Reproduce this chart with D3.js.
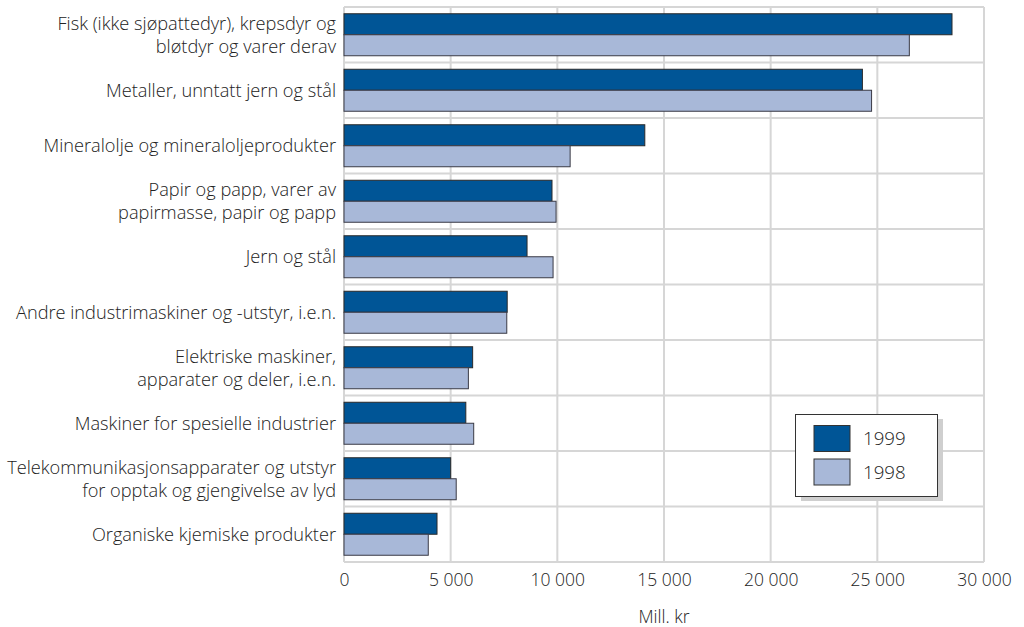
<!DOCTYPE html>
<html>
<head>
<meta charset="utf-8">
<script src="https://cdn.jsdelivr.net/npm/d3@7"></script>
<style>
  html, body { margin: 0; padding: 0; background: #fff; }
  svg { display: block; }
  text { font-family: "Open Sans", "Noto Sans", sans-serif; font-weight: 300; fill: #222; }
</style>
</head>
<body>
<svg id="chart" width="1024" height="627"></svg>
<script>
const categories = [
  "Fisk (ikke sjøpattedyr), krepsdyr og\nbløtdyr og varer derav",
  "Metaller, unntatt jern og stål",
  "Mineralolje og mineraloljeprodukter",
  "Papir og papp, varer av\npapirmasse, papir og papp",
  "Jern og stål",
  "Andre industrimaskiner og -utstyr, i.e.n.",
  "Elektriske maskiner,\napparater og deler, i.e.n.",
  "Maskiner for spesielle industrier",
  "Telekommunikasjonsapparater og utstyr\nfor opptak og gjengivelse av lyd",
  "Organiske kjemiske produkter"
];
const values1999 = [28500, 24300, 14100, 9750, 8580, 7650, 6030, 5710, 5000, 4360];
const values1998 = [26500, 24730, 10600, 9940, 9800, 7630, 5830, 6080, 5260, 3950];
const seriesNames = ["1999", "1998"];
const xTicks = [0, 5000, 10000, 15000, 20000, 25000, 30000];
const axisTitle = "Mill. kr";

const colors = { "1999": "#005596", "1998": "#a8b8d8" };
const svg = d3.select("#chart");

const pLeft = 344, pRight = 984, pTop = 7, pBottom = 562;
const x = d3.scaleLinear().domain([0, 30000]).range([pLeft, pRight]);
const y = d3.scaleBand().domain(categories).range([pTop, pBottom]);
const barH = 21;

const locale = d3.formatLocale({ decimal: ",", thousands: " ", grouping: [3], currency: ["", ""] });
const fmt = locale.format(",");

// grid
const grid = svg.append("g");
grid.selectAll("line.v").data(xTicks).join("line")
  .attr("x1", d => x(d)).attr("x2", d => x(d))
  .attr("y1", pTop).attr("y2", pBottom)
  .attr("stroke", "#d6d6d6").attr("stroke-width", 2);
const hLines = categories.map(c => y(c)).concat([pBottom]);
grid.selectAll("line.h").data(hLines).join("line")
  .attr("x1", pLeft).attr("x2", pRight)
  .attr("y1", d => d).attr("y2", d => d)
  .attr("stroke", "#d6d6d6").attr("stroke-width", 2);

// bars
const off = (y.bandwidth() - 2 * barH) / 2;
const gBars = svg.append("g");
gBars.selectAll("rect.b99").data(categories).join("rect")
  .attr("x", x(0)).attr("y", c => y(c) + off)
  .attr("width", (c, i) => x(values1999[i]) - x(0)).attr("height", barH)
  .attr("fill", colors["1999"]).attr("stroke", "#2a2a2a").attr("stroke-width", 1);
gBars.selectAll("rect.b98").data(categories).join("rect")
  .attr("x", x(0)).attr("y", c => y(c) + off + barH)
  .attr("width", (c, i) => x(values1998[i]) - x(0)).attr("height", barH)
  .attr("fill", colors["1998"]).attr("stroke", "#3a3a45").attr("stroke-width", 1);

// x axis
const xAxis = d3.axisBottom(x).tickValues(xTicks).tickSize(0).tickPadding(12).tickFormat(d => fmt(d));
const gx = svg.append("g").attr("transform", `translate(0,${pBottom})`).call(xAxis);
gx.select(".domain").remove();
gx.selectAll("text").style("font-size", "17.5px").style("font-family", '"Open Sans", sans-serif').style("font-weight", 300).attr("fill", "#222");

svg.append("text").attr("x", x(15000)).attr("y", 623).attr("text-anchor", "middle")
  .style("font-size", "17.5px").text(axisTitle);

// y labels
const yAxis = d3.axisLeft(y).tickSize(0).tickPadding(8);
const gy = svg.append("g").attr("transform", `translate(${pLeft},0)`).call(yAxis);
gy.select(".domain").remove();
gy.selectAll("text").each(function(d) {
  const t = d3.select(this);
  const lines = d.split("\n");
  t.text(null).attr("dy", null).attr("fill", "#222")
    .style("font-size", "18.2px").style("font-family", '"Open Sans", sans-serif').style("font-weight", 300);
  const lh = 23;
  lines.forEach((ln, k) => {
    t.append("tspan").attr("x", -8)
      .attr("y", (k - (lines.length - 1) / 2) * lh)
      .attr("dy", "0.35em").text(ln);
  });
});

// legend
const lg = svg.append("g");
lg.append("rect").attr("x", 801).attr("y", 419).attr("width", 142).attr("height", 82).attr("fill", "#cfcfcf");
lg.append("rect").attr("x", 795.5).attr("y", 414.5).attr("width", 142).attr("height", 82)
  .attr("fill", "#fff").attr("stroke", "#333").attr("stroke-width", 1);
seriesNames.forEach((s, i) => {
  lg.append("rect").attr("x", 814).attr("y", 425.5 + i * 33.5).attr("width", 36).attr("height", 26)
    .attr("fill", colors[s]).attr("stroke", "#333").attr("stroke-width", 1);
  lg.append("text").attr("x", 863).attr("y", 438.5 + i * 33.5).attr("dy", "0.35em")
    .style("font-size", "18.7px").text(s);
});
</script>
</body>
</html>
